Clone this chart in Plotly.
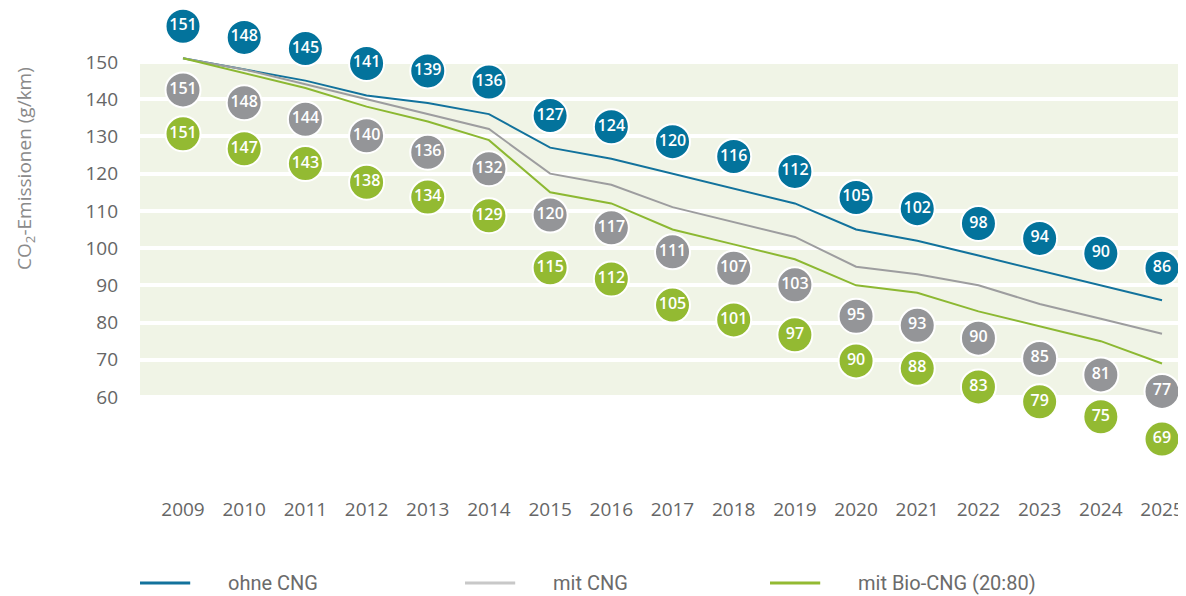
import plotly.graph_objects as go

years = list(range(2009, 2026))
ohne_cng = [151, 148, 145, 141, 139, 136, 127, 124, 120, 116, 112, 105, 102, 98, 94, 90, 86]
mit_cng = [151, 148, 144, 140, 136, 132, 120, 117, 111, 107, 103, 95, 93, 90, 85, 81, 77]
mit_bio_cng = [151, 147, 143, 138, 134, 129, 115, 112, 105, 101, 97, 90, 88, 83, 79, 75, 69]
y_ticks = [60, 70, 80, 90, 100, 110, 120, 130, 140, 150]

series = [
    # name, values, line colour, bubble colour, legend colour, bubble offset (first, last year)
    ("ohne CNG", ohne_cng, "#12729c", "#03739c", "#12729c", (8.6, 8.6)),
    ("mit CNG", mit_cng, "#9d9d9f", "#949598", "#c8c8c8", (-8.5, -15.5)),
    ("mit Bio-CNG (20:80)", mit_bio_cng, "#8cb832", "#93ba32", "#93ba32", (-20.3, -20.3)),
]
legend_x = [0.0, 0.3107, 0.6023]

fig = go.Figure()

for name, vals, lc, bc, _, off in series:
    fig.add_trace(go.Scatter(
        x=years, y=vals, mode="lines", name=name,
        line=dict(color=lc, width=2), showlegend=False, hoverinfo="skip"
    ))

n = len(years)
for name, vals, lc, bc, _, (o0, o1) in series:
    # bubbles sit a bit above / below their line
    label_y = [v + o0 + (o1 - o0) * i / (n - 1) for i, v in enumerate(vals)]
    fig.add_trace(go.Scatter(
        x=years, y=label_y, mode="markers+text",
        text=[str(v) for v in vals], textposition="middle center",
        textfont=dict(color="white", size=16, family="Open Sans", weight=600),
        marker=dict(size=35, color=bc, line=dict(color="white", width=2)),
        showlegend=False, customdata=vals, hovertemplate="%{x}: %{customdata}<extra></extra>"
    ))

# light green band behind the grid
fig.add_shape(type="rect", xref="paper", yref="y", x0=0, x1=1, y0=60, y1=150,
              fillcolor="#f0f4e6", line=dict(width=0), layer="below")

# hand-made legend below the axis
for (name, vals, lc, bc, legc, off), x0 in zip(series, legend_x):
    fig.add_shape(type="line", xref="paper", yref="paper", x0=x0, x1=x0 + 0.048,
                  y0=-0.1807, y1=-0.1807, line=dict(color=legc, width=3))
    fig.add_annotation(xref="paper", yref="paper", x=x0 + 0.082, y=-0.1807,
                       text=name, showarrow=False, xanchor="left", yanchor="middle",
                       font=dict(family="Liberation Sans Narrow, Roboto", size=20, color="#6b6b6b"))

fig.add_annotation(xref="paper", yref="paper", x=-0.11, y=0.6715, textangle=-90,
                   text="CO<sub>2</sub>-Emissionen (g/km)", showarrow=False,
                   xanchor="center", yanchor="middle",
                   font=dict(family="Open Sans", size=19, color="#8a8a8a"))

# the page adds an 8px body margin, so the figure is 8px smaller each way
fig.update_layout(
    width=1178, height=588,
    margin=dict(l=132, r=0, t=0, b=101),
    plot_bgcolor="white", paper_bgcolor="white",
    font=dict(family="Open Sans", color="#666666"),
    xaxis=dict(range=[2008.297, 2025.392], tickvals=years, showgrid=False,
               zeroline=False, showline=False, tickfont=dict(size=19, color="#666666"),
               ticks="", ticklabelstandoff=1),
    yaxis=dict(range=[33.67, 164.507], tickvals=y_ticks, showgrid=True,
               gridcolor="white", gridwidth=4, zeroline=False, showline=False,
               tickfont=dict(size=19, color="#666666"), ticklabelstandoff=21),
)

fig.write_html("out.html")
